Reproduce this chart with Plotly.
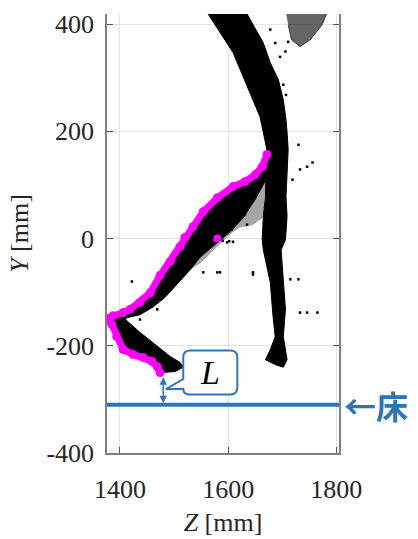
import plotly.graph_objects as go

# ---- data (Z, Y in mm) ----
# main body band (upper diagonal + vertical stalk), outline
body_z = [1561, 1563, 1609, 1641, 1659, 1669, 1674, 1670, 1669, 1665, 1663, 1665, 1678, 1683, 1687, 1678, 1669,
          1687, 1702, 1709, 1702, 1706, 1702, 1698, 1706, 1709, 1707, 1709, 1711, 1709, 1707, 1702, 1693, 1678,
          1665, 1635, 1632]
body_y = [427, 419, 347, 272, 227, 179, 153, 123, 78, 41, -2, -21, -82, -145, -183, -207, -226,
          -235, -240, -226, -183, -132, -82, -21, -2, 41, 78, 123, 166, 198, 222, 259, 296, 328,
          365, 419, 427]

# top-right sparse cluster outline
top_z = [1706, 1785, 1774, 1752, 1733, 1717, 1711]
top_y = [427, 427, 399, 371, 358, 371, 399]

# magenta contour
mag_z = [1672, 1663, 1650, 1631, 1609, 1580, 1554, 1535, 1520, 1511, 1493, 1474, 1456, 1437, 1419, 1406,
         1387, 1376, 1385, 1394, 1406, 1424, 1443, 1459, 1469, 1474]
mag_y = [157, 134, 119, 106, 97, 76, 50, 22, 2, -15, -43, -69, -101, -119, -132, -138,
         -144, -149, -160, -183, -207, -216, -222, -229, -239, -250]
mag_iso_z = [1580]
mag_iso_y = [0]

# lower leg / foot band: outline continuing from the magenta contour
leg_tail_z = [1502, 1517, 1511, 1493, 1469, 1437, 1409, 1415, 1437, 1459, 1483, 1504, 1530, 1548, 1576,
              1604, 1628, 1650, 1670, 1676]
leg_tail_y = [-248, -240, -231, -220, -201, -175, -150, -147, -142, -129, -110, -86, -58, -35, -11,
              13, 39, 73, 110, 140]

# sparse hanging strands below the leg band
strand_z = [1670, 1665, 1645, 1620, 1600, 1575, 1550, 1530, 1548, 1576, 1604, 1628, 1650]
strand_y = [110, 40, 25, 20, 5, -20, -45, -58, -35, -11, 13, 39, 73]

# stray points
stray_z = [1706, 1711, 1696, 1687, 1678, 1702, 1707, 1730, 1756, 1746, 1719, 1733, 1580, 1646, 1554, 1422,
           1585, 1469, 1437, 1506, 1598, 1609, 1646, 1715, 1730, 1733, 1746, 1765, 1631, 1635, 1617, 1607,
           1590, 1602]
stray_y = [349, 367, 339, 365, 390, 287, 268, 175, 142, 134, 110, 129, -63, -63, -63, -80,
           -63, -132, -151, -231, -7, -6, -67, -76, -76, -138, -138, -138, 45, 26, 32, 17,
           -4, -5]

floor_y = -310

x_ticks = [1400, 1600, 1800]
y_ticks = [-400, -200, 0, 200, 400]

BLUE = "#2E75B6"
SERIF = "Liberation Serif"

fig = go.Figure()
fig.add_trace(go.Scatter(x=body_z, y=body_y, fill="toself", fillcolor="black", mode="lines",
                         line=dict(color="black", width=1), hoverinfo="skip"))
fig.add_trace(go.Scatter(x=top_z, y=top_y, fill="toself", fillcolor="rgba(0,0,0,0.6)", mode="lines",
                         line=dict(color="rgba(0,0,0,0.6)", width=1), hoverinfo="skip"))
fig.add_trace(go.Scatter(x=strand_z, y=strand_y, fill="toself", fillcolor="rgba(0,0,0,0.35)", mode="lines",
                         line=dict(color="rgba(0,0,0,0)", width=0), hoverinfo="skip"))
fig.add_trace(go.Scatter(x=mag_z + leg_tail_z, y=mag_y + leg_tail_y, fill="toself", fillcolor="black",
                         mode="lines", line=dict(color="black", width=1), hoverinfo="skip"))
fig.add_trace(go.Scatter(x=stray_z, y=stray_y, mode="markers",
                         marker=dict(color="black", size=2.5, symbol="square"), hoverinfo="skip"))
fig.add_trace(go.Scatter(x=mag_z, y=mag_y, mode="lines+markers",
                         line=dict(color="#FF00FF", width=7),
                         marker=dict(color="#FF00FF", size=9), hoverinfo="skip"))
fig.add_trace(go.Scatter(x=mag_iso_z, y=mag_iso_y, mode="markers",
                         marker=dict(color="#FF00FF", size=8), hoverinfo="skip"))

# floor line
fig.add_shape(type="line", xref="paper", x0=0, x1=1, yref="y", y0=floor_y, y1=floor_y,
              line=dict(color=BLUE, width=4))

# L callout box with tail
path = ("M 1530,-209 L 1604,-209 Q 1617,-209 1617,-222 L 1617,-278 Q 1617,-291 1604,-291 "
        "L 1530,-291 Q 1517,-291 1517,-280 L 1485,-281 L 1517,-262 L 1517,-222 Q 1517,-209 1530,-209 Z")
fig.add_shape(type="path", path=path, xref="x", yref="y",
              line=dict(color=BLUE, width=2), fillcolor="white")
fig.add_annotation(x=1567, y=-250, xref="x", yref="y", text="<i>L</i>", showarrow=False,
                   font=dict(family=SERIF, size=34, color="black"))
# double arrow
fig.add_annotation(x=1480, y=floor_y + 3, ax=1480, ay=-256, xref="x", yref="y", axref="x", ayref="y",
                   text="", showarrow=True, arrowhead=2, arrowside="end+start", arrowsize=1,
                   arrowwidth=1.5, arrowcolor=BLUE)
# floor label
fig.add_annotation(x=1.015, y=floor_y, xref="paper", yref="y", text="<b>←床</b>", showarrow=False,
                   xanchor="left", font=dict(family="Noto Sans CJK JP", size=32, color=BLUE))

axis_common = dict(showgrid=True, gridcolor="#E3E3E3", gridwidth=1, zeroline=False,
                   showline=True, linecolor="#7F7F7F", linewidth=1.5,
                   ticks="inside", ticklen=6, tickcolor="#555555", tickwidth=1,
                   tickfont=dict(family=SERIF, size=26, color="#262626"))

fig.update_xaxes(range=[1376, 1805], tickvals=x_ticks, ticktext=[str(v) for v in x_ticks],
                 ticklabelstandoff=12,
                 title=dict(text="<i>Z</i> [mm]", font=dict(family=SERIF, size=26, color="#262626"), standoff=10),
                 **axis_common)
fig.update_yaxes(range=[-400, 419], tickvals=y_ticks, ticktext=[str(v) for v in y_ticks], mirror="ticks",
                 ticklabelstandoff=6,
                 title=dict(text="<i>Y</i> [mm]", font=dict(family=SERIF, size=26, color="#262626"), standoff=10),
                 **axis_common)

fig.update_layout(width=418, height=539, margin=dict(l=107, r=79, t=14, b=86, autoexpand=False),
                  plot_bgcolor="white", paper_bgcolor="white", showlegend=False)

fig.write_html("out.html", post_script="document.body.style.margin='0';",
               config={"displayModeBar": False})
